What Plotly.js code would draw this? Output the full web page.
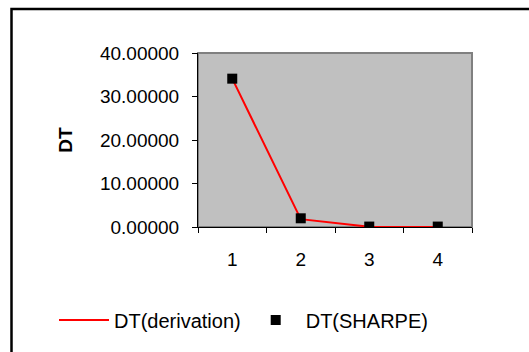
<!DOCTYPE html>
<html>
<head>
<meta charset="utf-8">
<script src="https://cdn.plot.ly/plotly-3.0.1.min.js"></script>
<style>html,body{margin:0;padding:0;background:#fff;}#chart{width:529px;height:352px;}</style>
</head>
<body>
<div id="chart"></div>
<script>
// Data
const categories = ['1', '2', '3', '4'];
const dtDerivation = [34.1, 1.8, 0.05, 0.02];
const dtSharpe = [34.1, 2.0, 0.1, 0.1];
const yTickValues = [0, 10, 20, 30, 40];

const W = 529, H = 352;
const M = {l: 198, r: 57, t: 53, b: 123};
const pw = W - M.l - M.r, ph = H - M.t - M.b;
const px = x => (x - M.l) / pw;
const py = y => 1 - (y - M.t) / ph;

const traces = [
  {
    x: categories, y: dtDerivation, name: 'DT(derivation)',
    type: 'scatter', mode: 'lines',
    line: {color: '#FF0000', width: 2}
  },
  {
    x: categories, y: dtSharpe, name: 'DT(SHARPE)',
    type: 'scatter', mode: 'markers',
    marker: {symbol: 'square', color: '#000000', size: 10, line: {width: 0}}
  }
];

const font = {family: '"Liberation Sans", Arial, sans-serif', color: '#000000'};

const layout = {
  width: W, height: H,
  margin: M,
  paper_bgcolor: '#FFFFFF',
  plot_bgcolor: '#C0C0C0',
  showlegend: true,
  font: Object.assign({size: 18}, font),
  xaxis: {
    type: 'category',
    range: [-0.5, 3.5],
    tickson: 'boundaries',
    ticks: 'outside', ticklen: 5, tickcolor: '#000000', tickwidth: 1,
    showline: true, linecolor: '#000000', linewidth: 1,
    showgrid: false, zeroline: false,
    ticklabelstandoff: 15,
    tickfont: Object.assign({size: 19}, font)
  },
  yaxis: {
    range: [0, 40],
    tickvals: yTickValues,
    tickformat: '.5f',
    ticks: 'outside', ticklen: 5, tickcolor: '#000000', tickwidth: 1,
    showline: true, linecolor: '#000000', linewidth: 1,
    showgrid: false, zeroline: false,
    ticklabelstandoff: 9,
    tickfont: Object.assign({size: 19}, font),
    title: {text: '<b>DT</b>', font: Object.assign({size: 19}, font), standoff: 22}
  },
  legend: {
    orientation: 'h',
    x: px(54), y: py(323), xanchor: 'left', yanchor: 'middle',
    xref: 'paper', yref: 'paper',
    font: Object.assign({size: 20}, font),
    bgcolor: 'rgba(0,0,0,0)',
    itemwidth: 50,
    tracegroupgap: 0
  },
  shapes: [
    {type: 'rect', xref: 'paper', yref: 'paper', x0: 0, x1: 1, y0: 0, y1: 1,
     line: {color: '#808080', width: 2}, fillcolor: 'rgba(0,0,0,0)', layer: 'below'},
    {type: 'rect', xref: 'paper', yref: 'paper', x0: px(11.5), x1: px(545), y0: py(370), y1: py(8.5),
     line: {color: '#000000', width: 2.5}, fillcolor: 'rgba(0,0,0,0)', layer: 'above'}
  ]
};

Plotly.newPlot('chart', traces, layout, {staticPlot: true, displayModeBar: false});
</script>
</body>
</html>
